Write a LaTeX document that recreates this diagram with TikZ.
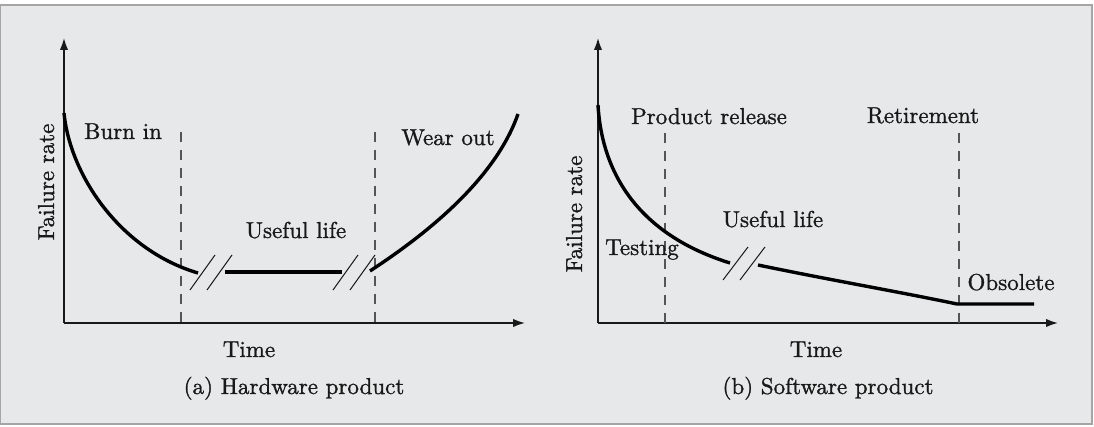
\documentclass[tikz,border=0pt]{standalone}
\usepackage{fontspec}
\setmainfont{lmroman10-regular.otf}[RawFeature={embolden=1.2}]
\usetikzlibrary{arrows.meta}
\definecolor{bgc}{RGB}{231,232,233}
\definecolor{framec}{RGB}{165,165,165}
\definecolor{ink}{RGB}{25,25,25}
\definecolor{dashc}{RGB}{85,85,85}
\begin{document}
\begin{tikzpicture}[x=0.5pt,y=-0.5pt,
  lbl/.style={font=\fontsize{11.5}{13}\selectfont, text=ink, inner sep=0pt, anchor=base},
  axis/.style={draw=ink, line width=0.8pt, -{Latex[length=6pt,width=4.2pt]}},
  curve/.style={draw=black, line width=1.7pt, line join=round},
  brk/.style={draw=ink, line width=0.5pt},
  guide/.style={draw=dashc, line width=0.6pt, dash pattern=on 5pt off 4pt}]
\useasboundingbox (0,0) rectangle (1094,427);
\fill[white] (0,0) rectangle (1094,427);
\draw[fill=bgc, draw=framec, line width=0.9pt] (0,5) rectangle (1092,424);

% ---------- (a) Hardware ----------
\coordinate (oA) at (64,323);
\coordinate (yA) at (64,38);
\coordinate (xA) at (525,323);
\draw[axis] (oA) -- (yA);
\draw[axis] (oA) -- (xA);
\coordinate (dA1t) at (181,132); \coordinate (dA1b) at (181,323);
\coordinate (dA2t) at (375,132); \coordinate (dA2b) at (375,323);
\draw[guide] (dA1t) -- (dA1b);
\draw[guide] (dA2t) -- (dA2b);
\draw[curve] (64,113) .. controls (70,175) and (120,250) .. (198,273);
\draw[curve] (225,272) -- (342,272);
\draw[curve] (370,271) .. controls (425,235) and (495,180) .. (518,114);
\draw[brk] (190,290) -- (215,255);
\draw[brk] (207,290) -- (232,255);
\draw[brk] (333,290) -- (358,255);
\draw[brk] (350,290) -- (375,255);
\node[lbl] (burn) at (123,139) {Burn in};
\node[lbl] (wear) at (448,145) {Wear out};
\node[lbl] (usefA) at (296,238) {Useful life};
\node[lbl] (timeA) at (249,357) {Time};
\node[lbl] (capA) at (294,394) {(a) Hardware product};
\node[lbl, rotate=90] (frA) at (54,182) {Failure rate};

% ---------- (b) Software ----------
\coordinate (oB) at (598,323);
\coordinate (yB) at (598,38);
\coordinate (xB) at (1058,323);
\draw[axis] (oB) -- (yB);
\draw[axis] (oB) -- (xB);
\coordinate (dB1t) at (665,133); \coordinate (dB1b) at (665,323);
\coordinate (dB2t) at (959,133); \coordinate (dB2b) at (959,323);
\draw[guide] (dB1t) -- (dB1b);
\draw[guide] (dB2t) -- (dB2b);
\draw[curve] (598,105) .. controls (602,175) and (640,235) .. (730,263);
\draw[curve] (758,265) .. controls (830,280) and (900,292) .. (957,304) -- (1034,304);
\draw[brk] (723,280) -- (748,247);
\draw[brk] (740,280) -- (765,247);
\node[lbl] (rel) at (709,124) {Product release};
\node[lbl] (ret) at (923,123) {Retirement};
\node[lbl] (usefB) at (773,227) {Useful life};
\node[lbl] (test) at (642,255) {Testing};
\node[lbl] (obs) at (1011,290) {Obsolete};
\node[lbl] (timeB) at (816,357) {Time};
\node[lbl] (capB) at (828,394) {(b) Software product};
\node[lbl, rotate=90] (frB) at (582,214) {Failure rate};
\end{tikzpicture}
\end{document}
